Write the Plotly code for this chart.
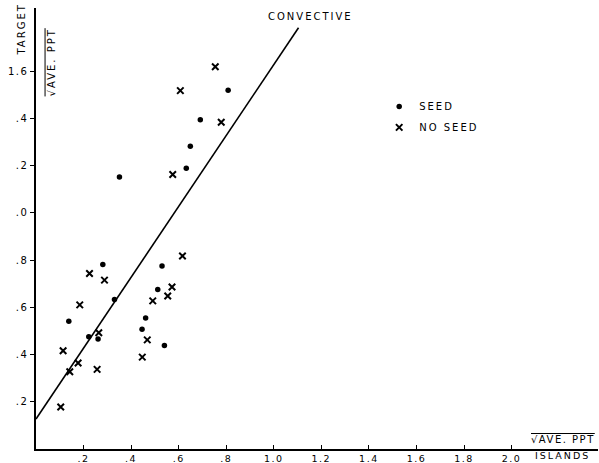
import plotly.graph_objects as go

# ---- data ----
seed_x = [0.281, 0.330, 0.138, 0.222, 0.261, 0.530, 0.512, 0.461, 0.446, 0.540,
          0.808, 0.691, 0.649, 0.632, 0.351]
seed_y = [0.781, 0.633, 0.541, 0.475, 0.466, 0.775, 0.675, 0.555, 0.507, 0.438,
          1.519, 1.394, 1.282, 1.188, 1.151]

noseed_x = [0.225, 0.288, 0.184, 0.264, 0.114, 0.177, 0.142, 0.257, 0.104, 0.616,
            0.572, 0.554, 0.491, 0.468, 0.447, 0.754, 0.607, 0.779, 0.575]
noseed_y = [0.743, 0.715, 0.610, 0.492, 0.416, 0.364, 0.327, 0.337, 0.178, 0.817,
            0.686, 0.648, 0.627, 0.462, 0.389, 1.618, 1.517, 1.383, 1.162]

# "convective" regression line: y = intercept + slope * x
line_intercept = 0.127
line_slope = 1.50
line_x = [0.0, 1.104]
line_y = [line_intercept + line_slope * v for v in line_x]

x_tickvals = [0.2, 0.4, 0.6, 0.8, 1.0, 1.2, 1.4, 1.6, 1.8, 2.0]
x_ticktext = [".2", ".4", ".6", ".8", "1.0", "1.2", "1.4", "1.6", "1.8", "2.0"]
y_tickvals = [0.2, 0.4, 0.6, 0.8, 1.0, 1.2, 1.4, 1.6]
y_ticktext = [".2", ".4", ".6", ".8", ".0", ".2", ".4", "1.6"]

FONT = "DejaVu Sans"
LS = "letter-spacing:2px"


def sp(t, ls=LS):
    return f"<span style='{ls}'>{t}</span>"


fig = go.Figure()

fig.add_trace(go.Scatter(
    x=line_x, y=line_y, mode="lines",
    line=dict(color="black", width=1.6),
    showlegend=False, hoverinfo="skip"))

fig.add_trace(go.Scatter(
    x=seed_x, y=seed_y, mode="markers", name=sp("SEED"),
    marker=dict(symbol="circle", size=5.5, color="black"),
    legendgroup="a"))

fig.add_trace(go.Scatter(
    x=noseed_x, y=noseed_y, mode="markers", name=sp("NO SEED"),
    marker=dict(symbol="x-thin", size=6.5, color="black",
                line=dict(color="black", width=2)),
    legendgroup="b"))

W, H = 599, 463
ml, mr, mt, mb = 35.5, 1, 8, 13.5
pw = W - ml - mr
ph = H - mt - mb
xscale = 238.0
yscale = 236.5

fig.update_layout(
    width=W, height=H,
    margin=dict(l=ml, r=mr, t=mt, b=mb, pad=0),
    paper_bgcolor="white", plot_bgcolor="white",
    font=dict(family=FONT, size=10, color="black"),
    showlegend=True,
    legend=dict(x=(379 - ml) / pw, y=(H - mb - 92) / ph, xanchor="left", yanchor="top",
                bgcolor="rgba(0,0,0,0)", borderwidth=0, tracegroupgap=2,
                font=dict(family=FONT, size=10, color="black"),
                itemwidth=30),
    xaxis=dict(range=[0, pw / xscale], showgrid=False, zeroline=False,
               showline=True, linecolor="black", linewidth=1.6,
               ticks="inside", ticklen=4, tickcolor="black", tickwidth=1,
               tickvals=x_tickvals, ticktext=[sp(t, "letter-spacing:1.5px") for t in x_ticktext],
               tickfont=dict(family=FONT, size=9.5, color="black"),
               ticklabelstandoff=0, automargin=False, fixedrange=True),
    yaxis=dict(range=[0, ph / yscale], showgrid=False, zeroline=False,
               showline=True, linecolor="black", linewidth=1.6,
               ticks="outside", ticklen=4, tickcolor="black", tickwidth=1,
               tickvals=y_tickvals, ticktext=[sp(t, "letter-spacing:1.5px") for t in y_ticktext],
               automargin=False, fixedrange=True),
)

# text labels
fig.add_annotation(text=sp("CONVECTIVE"), xref="paper", yref="paper",
                   x=(310 - ml) / pw, y=(H - mb - 17) / ph,
                   showarrow=False, xanchor="center", yanchor="middle",
                   font=dict(family=FONT, size=10, color="black"))

fig.add_annotation(text=sp("TARGET"), xref="paper", yref="paper",
                   x=(21 - ml) / pw, y=(H - mb - 30) / ph, textangle=-90,
                   showarrow=False, xanchor="center", yanchor="middle",
                   font=dict(family=FONT, size=10, color="black"))

fig.add_annotation(text=sp("√AVE. PPT"), xref="paper", yref="paper",
                   x=(51 - ml) / pw, y=(H - mb - 62) / ph, textangle=-90,
                   showarrow=False, xanchor="center", yanchor="middle",
                   font=dict(family=FONT, size=10, color="black", lineposition="over"))

fig.add_annotation(text=sp("√AVE. PPT", "letter-spacing:1.5px"), xref="paper", yref="paper",
                   x=(529 - ml) / pw, y=(H - mb - 440) / ph,
                   showarrow=False, xanchor="left", yanchor="middle",
                   font=dict(family=FONT, size=10, color="black", lineposition="over"))

fig.add_annotation(text=sp("ISLANDS"), xref="paper", yref="paper",
                   x=(533 - ml) / pw, y=(H - mb - 456) / ph,
                   showarrow=False, xanchor="left", yanchor="middle",
                   font=dict(family=FONT, size=9.5, color="black"))

fig.write_html("out.html",
               config={"displayModeBar": False, "staticPlot": True},
               post_script="document.body.style.margin='0';document.body.style.padding='0';")
